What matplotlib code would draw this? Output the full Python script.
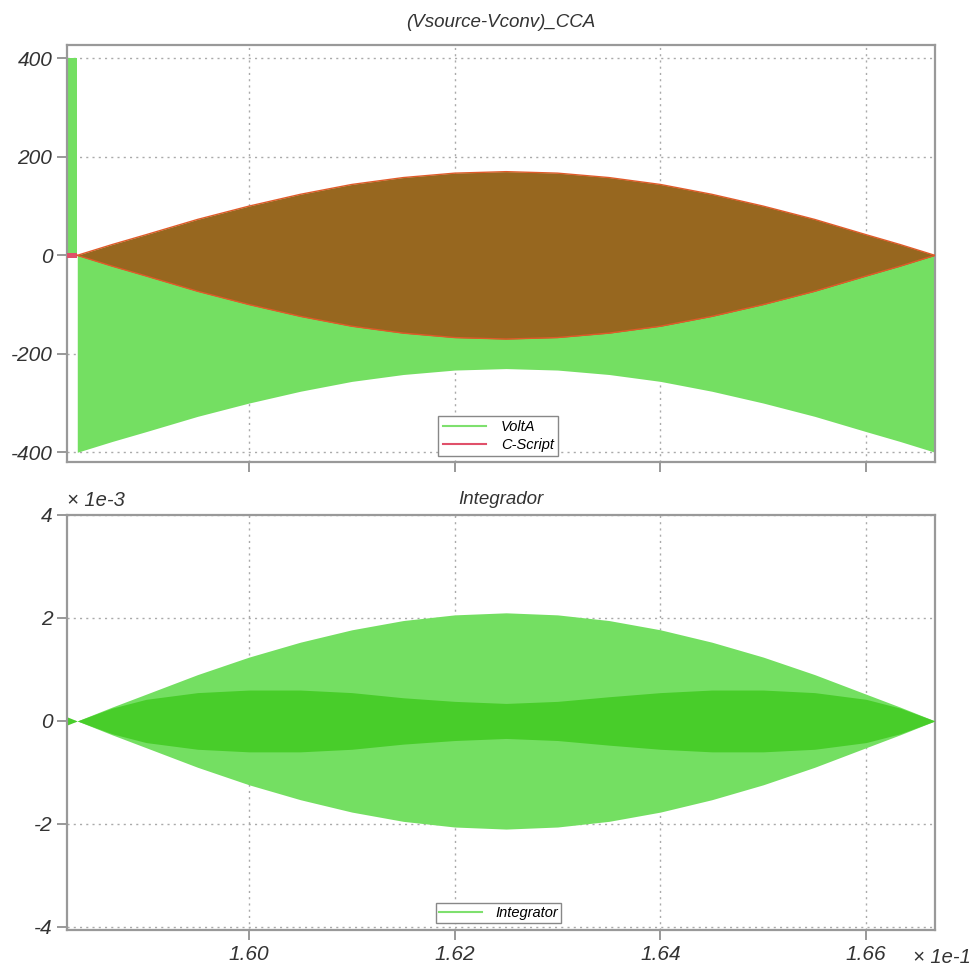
import numpy as np
import matplotlib
matplotlib.use("Agg")
from matplotlib import pyplot as plt

# time axis in units of 1e-1 s
t_pre = [1.5823, 1.5833]
volt_pre_hi = [400, 400]
volt_pre_lo = [0, 0]
integ_pre = [0.08, 0.0]

t_env = [1.5833, 1.5867, 1.59, 1.595, 1.60, 1.605, 1.61, 1.615, 1.62, 1.625,
         1.63, 1.635, 1.64, 1.645, 1.65, 1.655, 1.66, 1.6633, 1.6667]
# C-Script envelope (+/-)
cscript_amp = [0, 22, 42, 73, 100, 124, 144, 158, 167, 170,
               167, 158, 144, 124, 100, 73, 42, 22, 0]
# VoltA lower envelope
volta_low = [-400, -378, -358, -327, -300, -276, -256, -242, -233, -230,
             -233, -242, -256, -276, -300, -327, -358, -378, -400]
# Integrator outer envelope (x1e-3)
integ_outer = [0, 0.27, 0.52, 0.90, 1.24, 1.53, 1.77, 1.95, 2.06, 2.10,
               2.06, 1.95, 1.77, 1.53, 1.24, 0.90, 0.52, 0.27, 0]
# Integrator dense inner band (x1e-3)
integ_inner = [0, 0.25, 0.42, 0.55, 0.60, 0.60, 0.55, 0.45, 0.38, 0.34,
               0.38, 0.47, 0.55, 0.60, 0.60, 0.55, 0.42, 0.25, 0]

xticks = [1.60, 1.62, 1.64, 1.66]
yticks_top = [-400, -200, 0, 200, 400]
yticks_bot = [-4, -2, 0, 2, 4]

green = '#74df62'
green_dark = '#48cd2a'
brown = '#97671f'
red = '#e0506a'
txt = '#333333'

plt.rcParams['font.family'] = ['Liberation Sans', 'DejaVu Sans']
plt.rcParams['font.style'] = 'italic'
plt.rcParams['axes.unicode_minus'] = False

fig = plt.figure(figsize=(9.78, 9.77), dpi=100)
ax1 = fig.add_axes([0.0685, 0.527, 0.8875, 0.4268])
ax2 = fig.add_axes([0.0685, 0.0481, 0.8875, 0.4248])

t_env = np.array(t_env)
amp = np.array(cscript_amp)

# top plot
ax1.fill_between(t_pre, volt_pre_lo, volt_pre_hi, color=green, lw=0, zorder=2)
ax1.fill_between(t_pre, [-5, -5], [5, 5], color=red, lw=0, zorder=3)
ax1.fill_between(t_env, volta_low, amp, color=green, lw=0, zorder=2)
ax1.fill_between(t_env, -amp, amp, color=brown, lw=0, zorder=3)
ax1.plot(t_env, amp, color='#e05a2a', lw=1, zorder=4)
ax1.plot(t_env, -amp, color='#e05a2a', lw=1, zorder=4)
ax1.plot([], [], color='#7ee06e', lw=1.5, label='VoltA')
ax1.plot([], [], color=red, lw=1.5, label='C-Script')
ax1.set_ylim(-420, 427)
ax1.set_yticks(yticks_top)
ax1.set_title('(Vsource-Vconv)_CCA', fontsize=13.5, color=txt, pad=13)
ax1.legend(loc='lower center', bbox_to_anchor=(0.497, -0.004), fontsize=10.5,
           frameon=True, fancybox=False, edgecolor='#888888', framealpha=1,
           handlelength=3.0, handletextpad=1.0, borderpad=0.3, labelspacing=0.25)

# bottom plot
outer = np.array(integ_outer)
inner = np.array(integ_inner)
ax2.fill_between(t_pre, -np.array(integ_pre), integ_pre, color=green_dark, lw=0, zorder=2)
ax2.fill_between(t_env, -outer, outer, color=green, lw=0, zorder=2)
ax2.fill_between(t_env, -inner, inner, color=green_dark, lw=0, zorder=3)
ax2.plot([], [], color='#7ee06e', lw=1.5, label='Integrator')
ax2.set_ylim(-4.06, 4.0)
ax2.set_yticks(yticks_bot)
ax2.set_title('Integrador', fontsize=13.5, color=txt, pad=8)
ax2.text(0.0, 1.012, '× 1e-3', transform=ax2.transAxes, fontsize=14.5, color=txt,
         va='bottom', ha='left')
fig.text(0.993, 0.02, '× 1e-1', fontsize=14.5, color=txt, va='center', ha='right')
ax2.legend(loc='lower center', bbox_to_anchor=(0.497, 0.0), fontsize=10.5,
           frameon=True, fancybox=False, edgecolor='#888888', framealpha=1,
           handlelength=3.0, handletextpad=0.9, borderpad=0.2)

for ax in (ax1, ax2):
    ax.set_xlim(1.5823, 1.6667)
    ax.set_xticks(xticks)
    ax.grid(True, linestyle=(0, (1.5, 3)), color='#aaaaaa', lw=1, zorder=0)
    ax.set_axisbelow(True)
    for s in ax.spines.values():
        s.set_color('#999999')
        s.set_linewidth(1.6)
    ax.tick_params(colors='#888888', labelcolor=txt, labelsize=15, length=7, width=1.2)

ax1.tick_params(axis='x', labelbottom=False)
ax2.set_xticklabels(['%.2f' % v for v in xticks])

fig.savefig('out.png', dpi=100)
